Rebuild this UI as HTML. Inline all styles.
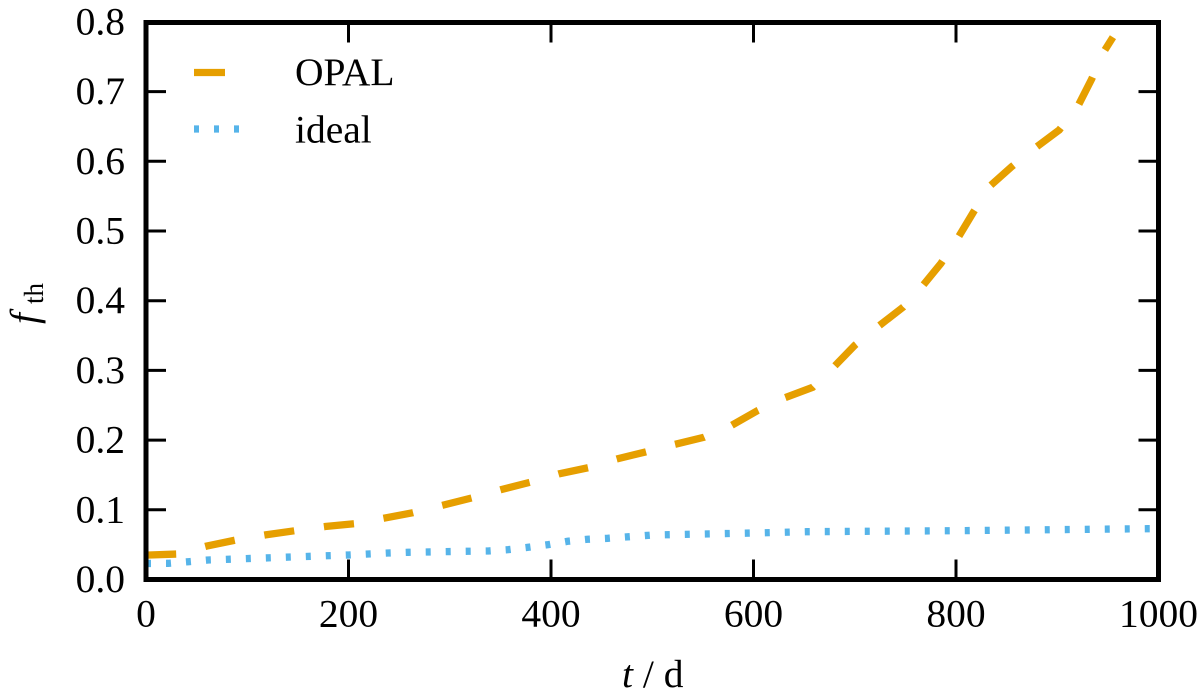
<!DOCTYPE html>
<html>
<head>
<meta charset="utf-8">
<style>
html,body{margin:0;padding:0;background:#fff;}
svg{display:block;font-family:"Liberation Serif",serif;}
text{fill:#000;}
</style>
</head>
<body>
<svg id="chart" width="1200" height="689" viewBox="0 0 1200 689" xmlns="http://www.w3.org/2000/svg">
  <defs><clipPath id="plot-clip"><rect x="146" y="22" width="1012.5" height="557.5"/></clipPath></defs>
  <g id="ticks"></g>
  <g clip-path="url(#plot-clip)">
    <polyline id="opal-line" fill="none" stroke="#e69f00" stroke-width="7.3" stroke-dasharray="30.2 30"/>
    <polyline id="ideal-line" fill="none" stroke="#56b4e9" stroke-width="7.3" stroke-dasharray="5 15"/>
  </g>
  <rect x="146" y="22.5" width="1012.5" height="557" fill="none" stroke="#000" stroke-width="5"/>
  <g id="tick-labels" font-size="39.5"></g>
  <text x="622" y="687" font-size="39.5"><tspan font-style="italic">t</tspan> / d</text>
  <text transform="translate(37,324) rotate(-90)" font-size="39.5"><tspan font-style="italic">f</tspan><tspan font-size="27" dy="6" dx="9">th</tspan></text>
  <g>
    <line x1="194" y1="72.5" x2="225" y2="72.5" stroke="#e69f00" stroke-width="7.3"/>
    <text x="295" y="85" font-size="39.5">OPAL</text>
    <line x1="194" y1="129" x2="240" y2="129" stroke="#56b4e9" stroke-width="7.3" stroke-dasharray="5 15"/>
    <text x="295" y="142.5" font-size="39.5">ideal</text>
  </g>
</svg>
<script>
const xTicks = [0, 200, 400, 600, 800, 1000];
const yTicks = [0.0, 0.1, 0.2, 0.3, 0.4, 0.5, 0.6, 0.7, 0.8];
const opalT = [0, 30, 60, 89, 118, 147, 177, 206, 235, 263.7, 293, 321.7, 350.3, 379.3, 407.6, 436.8, 464.9, 493.5, 522.5, 551, 578.5, 603.8, 631, 658.4, 680, 700, 724, 748, 767.7, 785.2, 802.3, 817.1, 833.6, 855, 878, 902, 920, 934, 945, 955];
const opalF = [0.035, 0.0365, 0.048, 0.0567, 0.064, 0.07, 0.076, 0.08, 0.088, 0.0958, 0.1065, 0.117, 0.1288, 0.1395, 0.1514, 0.1604, 0.1729, 0.183, 0.194, 0.204, 0.2212, 0.2422, 0.2608, 0.2757, 0.306, 0.336, 0.364, 0.391, 0.4225, 0.4537, 0.491, 0.5268, 0.5646, 0.5923, 0.619, 0.645, 0.678, 0.718, 0.755, 0.778];
const idealT = [0, 22, 41.8, 61.5, 200, 239, 259, 318, 338, 357.8, 377.6, 397.3, 416.5, 436.2, 456, 500, 600, 653, 800, 989, 1000];
const idealF = [0.023, 0.0232, 0.0255, 0.028, 0.0352, 0.038, 0.039, 0.0405, 0.0409, 0.0428, 0.0462, 0.05, 0.0548, 0.0577, 0.0591, 0.0638, 0.0667, 0.0686, 0.07, 0.0729, 0.073];

const xScale = t => 146 + t * 1.0125;
const yScale = f => 579.5 - f * 697;
const NS = 'http://www.w3.org/2000/svg';

function points(ts, fs) {
  return ts.map((t, i) => xScale(t).toFixed(2) + ',' + yScale(fs[i]).toFixed(2)).join(' ');
}
document.getElementById('opal-line').setAttribute('points', points(opalT, opalF));
document.getElementById('ideal-line').setAttribute('points', points(idealT, idealF));

const tickGroup = document.getElementById('ticks');
const labelGroup = document.getElementById('tick-labels');

function addTick(x1, y1, x2, y2) {
  const l = document.createElementNS(NS, 'line');
  
  
  l.setAttribute('x1', x1);
  l.setAttribute('y1', y1);
  l.setAttribute('x2', x2);
  l.setAttribute('y2', y2);
  l.setAttribute('stroke', '#000');
  l.setAttribute('stroke-width', '3');
  tickGroup.appendChild(l);
}
function addLabel(x, y, anchor, str) {
  const t = document.createElementNS(NS, 'text');
  
  
  t.setAttribute('x', x);
  t.setAttribute('y', y);
  t.setAttribute('text-anchor', anchor);
  t.textContent = str;
  labelGroup.appendChild(t);
}
xTicks.forEach(t => {
  const x = xScale(t);
  addTick(x, 579.5, x, 559.5);
  addTick(x, 22.5, x, 42.5);
  addLabel(x, 626.5, 'middle', String(t));
});
yTicks.forEach(f => {
  const y = yScale(f);
  addTick(146, y, 166, y);
  addTick(1158.5, y, 1138.5, y);
  addLabel(125, y + 12.5, 'end', f.toFixed(1));
});
</script>
</body>
</html>
